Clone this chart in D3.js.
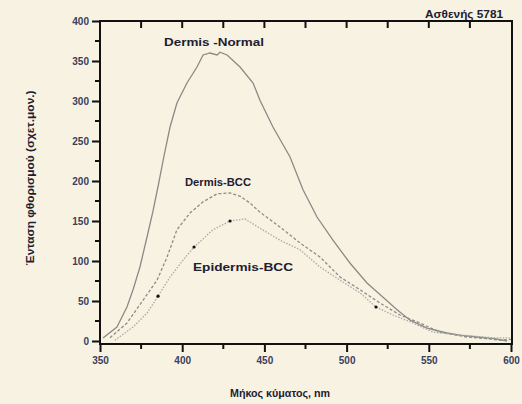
<!DOCTYPE html>
<html><head><meta charset="utf-8">
<script src="https://cdn.jsdelivr.net/npm/d3@7"></script>
<style>
html,body{margin:0;padding:0;background:#f8f2e3;}
svg{display:block;}
text{font-family:"Liberation Sans",Arial,sans-serif;font-weight:bold;}
</style></head><body>
<svg id="c" width="522" height="404"></svg>
<script>
// ---- data ----
const xTicks = [350, 400, 450, 500, 550, 600];
const xMinor = [375, 425, 475, 525, 575];
const yTicks = [0, 50, 100, 150, 200, 250, 300, 350, 400];
const yMinor = [25, 75, 125, 175, 225, 275, 325, 375];

const normalNm  = [351.8,360.3,366.4,370.1,374.3,378.6,382.2,385.5,388.8,392.6,396.8,402.9,409,412.7,416.9,421.2,423,427.3,435.2,443.1,447.3,455.2,465.6,473.5,482,491.7,502,512.4,522,530.7,538.6,548.9,561,570,579.3,590,597.6];
const normalVal = [3.75,17.5,42.5,64,92.5,130,162,195,230,267.5,297.5,322.5,342.5,357.5,360,357.5,361,357.5,342.5,322.5,301,267.5,230,189,155,126,97.5,72.5,55,39,26,16,10,7,5,3,0];

const dermisBccNm  = [356.1,366.4,376.2,384.7,390.8,396.8,404.7,412.7,421.2,429.1,435.2,441.2,447.3,459.5,471.7,483.8,496,508.2,520.3,532.5,544.6,556.8,573.2,585,593.3,600];
const dermisBccVal = [4,22.5,51,76,105,139,160,174,184,185,181,172.5,161,142.5,122.5,105,80,64,47.5,32.5,22.5,11,5,3,1,2];

const epiBccNm  = [359.1,370.1,378.6,385.3,392.6,400.5,407.2,418.7,429.1,438.2,447.3,459.5,471.7,483.8,496,508.2,517.9,528.2,540.4,552.6,569,589,599.4];
const epiBccVal = [1,17.5,35,56,80,101,117.5,139,150,152.5,141,126,114,92.5,76,60,42.5,32.5,22.5,11,7.5,4,4];
const epiMarkNm  = [385.3, 407.2, 429.1, 517.9];
const epiMarkVal = [56, 117.5, 150, 42.5];

const labels = ["Dermis -Normal", "Dermis-BCC", "Epidermis-BCC"];
const title = "Ασθενής 5781";
const xTitle = "Μήκος κύματος, nm";
const yTitle = "Ένταση φθορισμού (σχετ.μον.)";

// ---- drawing ----
const svg = d3.select("#c");
const L = 100, R = 512, T = 21, B = 344;
const x = d3.scaleLinear().domain([350, 600]).range([L, 511]);
const y = d3.scaleLinear().domain([0, 400]).range([341, T]);

const line = d3.line().x(d => x(d[0])).y(d => y(d[1]));
function pts(a, b) { return a.map((v, i) => [v, b[i]]); }

svg.append("path").datum(pts(normalNm, normalVal)).attr("d", line)
  .attr("fill", "none").attr("stroke", "#8a8a86").attr("stroke-width", 1.3);
svg.append("path").datum(pts(dermisBccNm, dermisBccVal)).attr("d", line)
  .attr("fill", "none").attr("stroke", "#8d8d88").attr("stroke-width", 1.3).attr("stroke-dasharray", "3,2");
svg.append("path").datum(pts(epiBccNm, epiBccVal)).attr("d", line)
  .attr("fill", "none").attr("stroke", "#a9a9a3").attr("stroke-width", 1.3).attr("stroke-dasharray", "1.5,1.5");
svg.selectAll("circle.m").data(pts(epiMarkNm, epiMarkVal)).enter().append("circle")
  .attr("cx", d => x(d[0])).attr("cy", d => y(d[1])).attr("r", 1.6).attr("fill", "#111");

// frame
const ax = svg.append("g").attr("stroke", "#111").attr("stroke-width", 2).attr("fill", "none");
ax.append("path").attr("d", `M${L},${T}H${R}V${B}H${L}Z`);

// left axis
const yAxis = d3.axisLeft(y).tickValues(yTicks).tickSize(8).tickPadding(3).tickFormat(d3.format("d"));
const gy = svg.append("g").attr("transform", `translate(${L},0)`).call(yAxis);
gy.select(".domain").remove();
gy.selectAll("line").attr("stroke", "#111").attr("stroke-width", 2);
gy.selectAll("text").attr("fill", "#3a3f5c").attr("font-size", 10);
svg.append("g").selectAll("line").data(yMinor).enter().append("line")
  .attr("x1", L - 5).attr("x2", L).attr("y1", d => y(d)).attr("y2", d => y(d))
  .attr("stroke", "#111").attr("stroke-width", 2);

// bottom axis
const xAxis = d3.axisBottom(x).tickValues(xTicks).tickSize(8).tickPadding(5).tickFormat(d3.format("d"));
const gx = svg.append("g").attr("transform", `translate(0,${B})`).call(xAxis);
gx.select(".domain").remove();
gx.selectAll("line").attr("stroke", "#111").attr("stroke-width", 2);
gx.selectAll("text").attr("fill", "#3a3f5c").attr("font-size", 10);
svg.append("g").selectAll("line").data(xMinor).enter().append("line")
  .attr("x1", d => x(d)).attr("x2", d => x(d)).attr("y1", B).attr("y2", B + 5)
  .attr("stroke", "#111").attr("stroke-width", 2);

// top inward ticks
svg.append("g").selectAll("line").data(xTicks.concat(xMinor).filter(d => d > 350 && d < 600)).enter().append("line")
  .attr("x1", d => x(d)).attr("x2", d => x(d)).attr("y1", T).attr("y2", T + 7)
  .attr("stroke", "#111").attr("stroke-width", 2);

// labels
svg.append("text").attr("x", 214).attr("y", 46).attr("text-anchor", "middle").attr("font-size", 10.5)
  .attr("textLength", 100).attr("lengthAdjust", "spacingAndGlyphs").attr("fill", "#1c2030").text(labels[0]);
svg.append("text").attr("x", 218).attr("y", 186).attr("text-anchor", "middle").attr("font-size", 10.5)
  .attr("textLength", 66).attr("lengthAdjust", "spacingAndGlyphs").attr("fill", "#1c2030").text(labels[1]);
svg.append("text").attr("x", 243).attr("y", 271).attr("text-anchor", "middle").attr("font-size", 10.5)
  .attr("textLength", 100).attr("lengthAdjust", "spacingAndGlyphs").attr("fill", "#1c2030").text(labels[2]);
svg.append("text").attr("x", 464).attr("y", 18).attr("text-anchor", "middle").attr("font-size", 10)
  .attr("textLength", 78).attr("lengthAdjust", "spacingAndGlyphs").attr("fill", "#1c2030").text(title);
svg.append("text").attr("x", 280).attr("y", 397).attr("text-anchor", "middle").attr("font-size", 10)
  .attr("textLength", 100).attr("lengthAdjust", "spacingAndGlyphs").attr("fill", "#1c2030").text(xTitle);
svg.append("text").attr("transform", "translate(34,178) rotate(-90)").attr("text-anchor", "middle").attr("font-size", 10)
  .attr("textLength", 175).attr("lengthAdjust", "spacingAndGlyphs").attr("fill", "#1c2030").text(yTitle);
</script>
</body></html>
